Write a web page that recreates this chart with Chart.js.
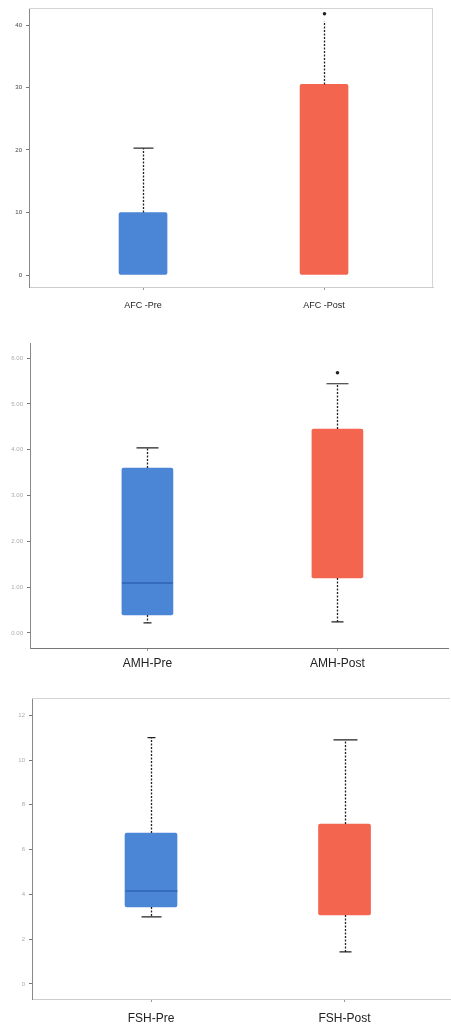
<!DOCTYPE html>
<html><head><meta charset="utf-8">
<script src="https://cdn.jsdelivr.net/npm/chart.js@4.4.1/dist/chart.umd.min.js"></script>
<style>
html,body{margin:0;padding:0;background:#fff;width:451px;height:1027px;overflow:hidden}
.c{position:absolute;left:0;width:451px}
</style></head><body>
<div class="c" style="top:0;height:330px"><canvas id="c1" width="451" height="330"></canvas></div>
<div class="c" style="top:330px;height:350px"><canvas id="c2" width="451" height="350"></canvas></div>
<div class="c" style="top:680px;height:347px"><canvas id="c3" width="451" height="347"></canvas></div>
<script>
// ---- AFC ----
const afcLabels = ['AFC -Pre', 'AFC -Post'];
const afcMin = [0, 0];
const afcQ1 = [0, 0];
const afcMedian = [null, null];
const afcQ3 = [10, 30.5];
const afcMax = [20.3, 40.6];
const afcOutliers = [[], [41.8]];
const afcTicks = [0, 10, 20, 30, 40];

// ---- AMH ----
const amhLabels = ['AMH-Pre', 'AMH-Post'];
const amhMin = [0.22, 0.24];
const amhQ1 = [0.39, 1.20];
const amhMedian = [1.09, null];
const amhQ3 = [3.60, 4.45];
const amhMax = [4.04, 5.44];
const amhOutliers = [[], [5.68]];
const amhTicks = [0, 1, 2, 3, 4, 5, 6];

// ---- FSH ----
const fshLabels = ['FSH-Pre', 'FSH-Post'];
const fshMin = [3.0, 1.43];
const fshQ1 = [3.44, 3.08];
const fshMedian = [4.15, null];
const fshQ3 = [6.74, 7.14];
const fshMax = [11.0, 10.9];
const fshOutliers = [[], []];
const fshTicks = [0, 2, 4, 6, 8, 10, 12];

const boxColors = ['#4a85d6', '#f3654f'];
const medianColors = ['rgba(35,85,165,0.55)', 'rgba(190,60,45,0.55)'];

function whiskerPlugin(st) {
  return {
    id: 'whiskers',
    afterDatasetsDraw(chart) {
      const x = chart.scales.x, y = chart.scales.y, ctx = chart.ctx, a = chart.chartArea;
      ctx.save();
      ctx.strokeStyle = '#d4d4d4'; ctx.lineWidth = 1;
      if (st.frameTop) { ctx.beginPath(); ctx.moveTo(a.left, a.top + 0.5); ctx.lineTo(a.right, a.top + 0.5); ctx.stroke(); }
      if (st.frameRight) { ctx.beginPath(); ctx.moveTo(a.right - 0.5, a.top); ctx.lineTo(a.right - 0.5, a.bottom); ctx.stroke(); }
      st.min.forEach((_, i) => {
        const cx = Math.round(x.getPixelForValue(i + 1)) + 0.5;
        const pMin = y.getPixelForValue(st.min[i]);
        const pQ1 = y.getPixelForValue(st.q1[i]);
        const pQ3 = y.getPixelForValue(st.q3[i]);
        const pMax = y.getPixelForValue(st.max[i]);
        ctx.strokeStyle = '#222'; ctx.lineWidth = 1.3;
        ctx.setLineDash([2, 1.5]);
        ctx.beginPath();
        ctx.moveTo(cx, pQ3); ctx.lineTo(cx, pMax);
        if (st.min[i] < st.q1[i]) { ctx.moveTo(cx, pQ1); ctx.lineTo(cx, pMin); }
        ctx.stroke();
        ctx.setLineDash([]);
        ctx.lineWidth = 1.2;
        ctx.beginPath();
        if (st.max[i] > st.q3[i] && st.capTop[i] > 0) { ctx.moveTo(cx - st.capTop[i], pMax); ctx.lineTo(cx + st.capTop[i], pMax); }
        if (st.min[i] < st.q1[i] && st.capBot[i] > 0) { ctx.moveTo(cx - st.capBot[i], pMin); ctx.lineTo(cx + st.capBot[i], pMin); }
        ctx.stroke();
        if (st.median[i] !== null) {
          const pm = y.getPixelForValue(st.median[i]);
          const half = st.boxW / 2;
          ctx.strokeStyle = medianColors[i]; ctx.lineWidth = 2;
          ctx.beginPath(); ctx.moveTo(cx - half, pm); ctx.lineTo(cx + half, pm); ctx.stroke();
        }
        ctx.fillStyle = '#222';
        st.out[i].forEach(v => {
          ctx.beginPath(); ctx.arc(cx, y.getPixelForValue(v), 1.8, 0, Math.PI * 2); ctx.fill();
        });
      });
      ctx.restore();
    }
  };
}

function makeChart(id, d, g) {
  const ctx = document.getElementById(id);
  new Chart(ctx, {
    type: 'bar',
    data: {
      datasets: [{
        data: d.labels.map((_, i) => ({ x: i + 1, y: [d.q1[i], d.q3[i]] })),
        backgroundColor: boxColors,
        borderWidth: 0,
        borderRadius: 2,
        borderSkipped: false,
        barThickness: g.boxW
      }]
    },
    options: {
      responsive: false,
      devicePixelRatio: 1,
      animation: false,
      events: [],
      layout: { padding: { left: 0, right: g.padRight, top: g.top, bottom: 0 } },
      plugins: { legend: { display: false }, tooltip: { enabled: false } },
      scales: {
        x: {
          type: 'linear',
          offset: false,
          min: g.xMin, max: g.xMax,
          afterBuildTicks: s => { s.ticks = [{ value: 1 }, { value: 2 }]; },
          afterFit: s => { s.height = g.xH; },
          ticks: {
            callback: v => d.labels[v - 1],
            font: { family: 'Liberation Sans', size: g.xFont },
            color: '#222',
            padding: g.xPad,
            maxRotation: 0, minRotation: 0
          },
          grid: { display: true, offset: false, drawOnChartArea: false, drawTicks: true, tickLength: 3, color: '#999' },
          border: { display: true, color: g.xBorder, width: 1, dash: g.xDash }
        },
        y: {
          min: g.yMin, max: g.yMax,
          afterBuildTicks: s => { s.ticks = d.ticks.map(v => ({ value: v })); },
          afterFit: s => { s.width = g.left; },
          ticks: {
            font: { family: 'Liberation Sans', size: g.yFont },
            color: g.yColor,
            padding: 4,
            callback: v => v.toFixed(g.yDec)
          },
          grid: { display: true, drawOnChartArea: false, drawTicks: true, tickLength: 3, color: '#777' },
          border: { display: true, color: '#888', width: 1, dash: [2, 1] }
        }
      }
    },
    plugins: [whiskerPlugin({
      min: d.min, q1: d.q1, median: d.median, q3: d.q3, max: d.max, out: d.out,
      boxW: g.boxW, capTop: g.capTop, capBot: g.capBot,
      frameTop: g.frameTop, frameRight: g.frameRight
    })]
  });
}

makeChart('c1',
  { labels: afcLabels, min: afcMin, q1: afcQ1, median: afcMedian, q3: afcQ3, max: afcMax, out: afcOutliers, ticks: afcTicks },
  { left: 29, padRight: 18, top: 8, xH: 43, xMin: 0.370, xMax: 2.602, yMin: -1.92, yMax: 42.72,
    boxW: 48, capTop: [10, 0], capBot: [0, 0], xFont: 9, xPad: 10, xBorder: '#ccc', xDash: [],
    yColor: '#444', yFont: 6, yDec: 0, frameTop: true, frameRight: true });

makeChart('c2',
  { labels: amhLabels, min: amhMin, q1: amhQ1, median: amhMedian, q3: amhQ3, max: amhMax, out: amhOutliers, ticks: amhTicks },
  { left: 30, padRight: 3, top: 13, xH: 32, xMin: 0.382, xMax: 2.582, yMin: -0.33, yMax: 6.33,
    boxW: 51, capTop: [11, 11], capBot: [4, 6], xFont: 12, xPad: 5, xBorder: '#777', xDash: [3, 2],
    yColor: '#aaa', yFont: 6, yDec: 2, frameTop: false, frameRight: false });

makeChart('c3',
  { labels: fshLabels, min: fshMin, q1: fshQ1, median: fshMedian, q3: fshQ3, max: fshMax, out: fshOutliers, ticks: fshTicks },
  { left: 32, padRight: 1, top: 18, xH: 28, xMin: 0.385, xMax: 2.545, yMin: -0.67, yMax: 12.77,
    boxW: 52, capTop: [4, 12], capBot: [10, 6], xFont: 12, xPad: 9, xBorder: '#ccc', xDash: [],
    yColor: '#aaa', yFont: 6, yDec: 0, frameTop: true, frameRight: false });
</script>
</body></html>
